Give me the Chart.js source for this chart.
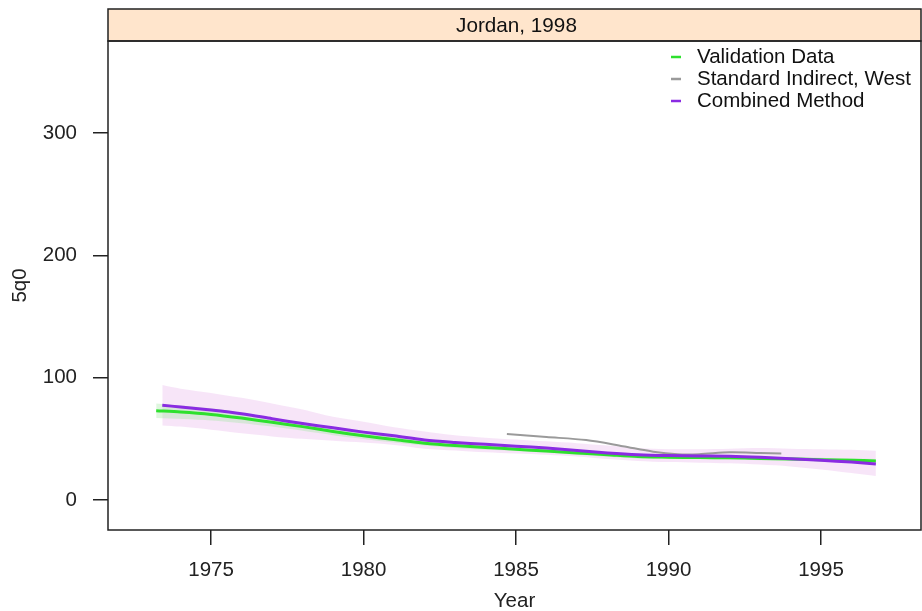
<!DOCTYPE html>
<html>
<head>
<meta charset="utf-8">
<script src="https://cdn.jsdelivr.net/npm/chart.js@4"></script>
<style>
  html, body { margin: 0; padding: 0; background: #fff; }
  #wrap { width: 922px; height: 611px; }
</style>
</head>
<body>
<div id="wrap"><canvas id="chart" width="922" height="611"></canvas></div>
<script>
// Jordan, 1998 - under-5 mortality (5q0) estimates
const xTicks = [1975, 1980, 1985, 1990, 1995];
const yTicks = [0, 100, 200, 300];

const combYears = [1973.4, 1974, 1975, 1976, 1977, 1978, 1979, 1980, 1981, 1982, 1983, 1984,
                   1985, 1986, 1987, 1988, 1989, 1990, 1991, 1992, 1993, 1994, 1995, 1996, 1996.8];
const combined  = [77.5, 76, 73.5, 70.5, 66.5, 62.5, 59, 55.5, 52.5, 49, 47, 45.5,
                   44, 42.5, 40.5, 38.5, 37, 36.3, 36, 35.8, 35, 33.8, 32.5, 31, 29.5];
const combUpper = [94, 91, 87.5, 83.5, 79, 74, 68, 64, 59.5, 56, 53, 51,
                   49.5, 48, 46.5, 44.5, 42.5, 41.5, 41.5, 42, 42.5, 42, 41.5, 41, 40.3];
const combLower = [61, 60, 57.5, 54.5, 52, 50, 48.5, 47, 45, 42, 40.5, 39,
                   38, 37, 35.5, 33.5, 32, 31, 30.5, 30, 29, 27.5, 25, 22, 19.6];

const valYears = [1973.2, 1974, 1975, 1976, 1977, 1978, 1979, 1980, 1981, 1982, 1983, 1984,
                  1985, 1986, 1987, 1988, 1989, 1990, 1991, 1992, 1993, 1994, 1995, 1996, 1996.8];
const validation = [73, 72, 70, 67, 63.5, 60, 56, 52.5, 49.5, 46.5, 44.5, 43,
                    41.5, 40, 38.5, 37, 35.5, 35, 34.7, 34.5, 34, 33.5, 33, 32.5, 32];

const valBandYears = [1973.2, 1975, 1977, 1979, 1981, 1983, 1985, 1987, 1989, 1991, 1993, 1995, 1996.8];
const valUpper = [79, 75, 67, 59, 52, 46.5, 43, 40, 37, 36, 35.5, 34.5, 33.5];
const valLower = [67, 65, 60, 53, 47, 42.5, 40, 37, 34, 33.5, 32.5, 31.5, 30.5];

const westYears = [1984.7, 1986, 1987.3, 1988.5, 1989.5, 1990.3, 1991, 1992, 1993, 1993.7];
const westIndirect = [54, 51.5, 49, 44, 39.5, 37.5, 37.5, 39, 38.5, 38];

const legendLabels = ['Validation Data', 'Standard Indirect, West', 'Combined Method'];
const legendColors = ['#2ee02e', '#9a9a9a', '#8a2be2'];

function pts(xs, ys) {
    return xs.map((x, i) => ({x: x, y: ys[i]}));
}

const FONT = 'Arial, "Liberation Sans", sans-serif';

const panelPlugin = {
    id: 'panel',
    afterDraw(chart) {
        const ctx = chart.ctx;
        const a = chart.chartArea;
        ctx.save();
        // strip
        ctx.fillStyle = '#ffe5cc';
        ctx.fillRect(a.left, 9, a.right - a.left, a.top - 9);
        ctx.strokeStyle = '#222';
        ctx.lineWidth = 1.5;
        ctx.strokeRect(a.left, 9, a.right - a.left, a.top - 9);
        ctx.fillStyle = '#111';
        ctx.font = '20.7px ' + FONT;
        ctx.textAlign = 'center';
        ctx.textBaseline = 'middle';
        ctx.fillText('Jordan, 1998', (a.left + a.right) / 2 + 2, 26);
        // panel box
        ctx.strokeRect(a.left, a.top, a.right - a.left, a.bottom - a.top);
        // legend
        ctx.textAlign = 'left';
        ctx.font = '20.5px ' + FONT;
        legendLabels.forEach((lab, i) => {
            const y = 57 + i * 22;
            ctx.strokeStyle = legendColors[i];
            ctx.lineWidth = 2.5;
            ctx.beginPath();
            ctx.moveTo(671, y);
            ctx.lineTo(681, y);
            ctx.stroke();
            ctx.fillStyle = '#111';
            ctx.fillText(lab, 697, y);
        });
        ctx.restore();
    }
};

new Chart(document.getElementById('chart'), {
    type: 'line',
    data: {
        datasets: [
            {
                label: 'Combined upper',
                data: pts(combYears, combUpper),
                order: 6,
                borderWidth: 0,
                pointRadius: 0,
                backgroundColor: 'rgba(232, 180, 236, 0.35)',
                fill: '+1',
                tension: 0.3
            },
            {
                label: 'Combined lower',
                data: pts(combYears, combLower),
                order: 5,
                borderWidth: 0,
                pointRadius: 0,
                fill: false,
                tension: 0.3
            },
            {
                label: 'Validation upper',
                data: pts(valBandYears, valUpper),
                order: 4,
                borderWidth: 0,
                pointRadius: 0,
                backgroundColor: 'rgba(160, 230, 160, 0.35)',
                fill: '+1',
                tension: 0.3
            },
            {
                label: 'Validation lower',
                data: pts(valBandYears, valLower),
                order: 3,
                borderWidth: 0,
                pointRadius: 0,
                fill: false,
                tension: 0.3
            },
            {
                label: 'Standard Indirect, West',
                data: pts(westYears, westIndirect),
                order: 2,
                borderColor: '#9a9a9a',
                borderWidth: 2,
                pointRadius: 0,
                fill: false,
                tension: 0.3
            },
            {
                label: 'Validation Data',
                data: pts(valYears, validation),
                order: 1,
                borderColor: '#2ee02e',
                borderWidth: 3,
                pointRadius: 0,
                fill: false,
                tension: 0.3
            },
            {
                label: 'Combined Method',
                data: pts(combYears, combined),
                order: 0,
                borderColor: '#8a2be2',
                borderWidth: 3,
                pointRadius: 0,
                fill: false,
                tension: 0.3
            }
        ]
    },
    options: {
        responsive: false,
        animation: false,
        layout: { padding: { left: 0, top: 41, right: 1, bottom: 0 } },
        plugins: {
            legend: { display: false },
            tooltip: { enabled: false }
        },
        scales: {
            x: {
                type: 'linear',
                min: 1971.62,
                max: 1998.28,
                afterBuildTicks: (s) => { s.ticks = xTicks.map(v => ({value: v})); },
                afterFit: (s) => { s.height = 81; },
                border: { display: false },
                grid: { drawOnChartArea: false, drawTicks: true, tickLength: 15, tickColor: '#222', lineWidth: 1.5 },
                ticks: { color: '#222', padding: 13, font: { size: 20.5, family: FONT }, maxRotation: 0,
                         callback: (v) => String(v) },
                title: { display: true, text: 'Year', color: '#222', padding: { top: 0, bottom: -3 }, font: { size: 20.5, family: FONT } }
            },
            y: {
                type: 'linear',
                min: -24.5,
                max: 375.2,
                afterBuildTicks: (s) => { s.ticks = yTicks.map(v => ({value: v})); },
                afterFit: (s) => { s.width = 108; },
                border: { display: false },
                grid: { drawOnChartArea: false, drawTicks: true, tickLength: 15, tickColor: '#222', lineWidth: 1.5 },
                ticks: { color: '#222', padding: 16, font: { size: 20.5, family: FONT },
                         callback: (v) => String(v) },
                title: { display: true, text: '5q0', color: '#222', padding: { top: 8, bottom: 0 }, font: { size: 20.5, family: FONT } }
            }
        }
    },
    plugins: [panelPlugin]
});
</script>
</body>
</html>
